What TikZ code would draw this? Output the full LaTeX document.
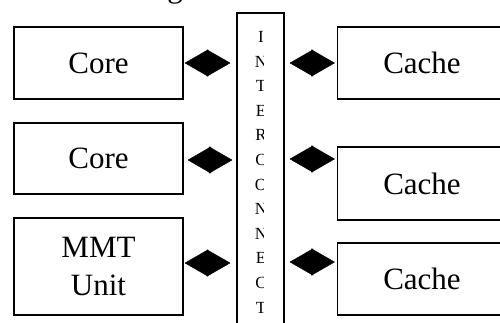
\documentclass[tikz,border=0pt]{standalone}
\usepackage{fontspec}
\setmainfont{Liberation Serif}
\usetikzlibrary{arrows.meta}
\begin{document}
\begin{tikzpicture}[x=1pt,y=-1pt,
  box/.style={draw, line width=1.2pt, minimum width=169pt, inner sep=0pt,
    font=\fontsize{31}{38}\selectfont, align=center},
  dbl/.style={line width=0.4pt, {Triangle[length=23.5pt,width=27pt]}-{Triangle[length=23.5pt,width=27pt]}},
  letter/.style={inner sep=0pt, font=\fontsize{17}{18}\selectfont, anchor=base}]
\useasboundingbox (0,0) rectangle (500,322);
\clip (0,0) rectangle (500,322);
\fill[white] (0,0) rectangle (500,322);
% caption fragment
\node[inner sep=0pt, anchor=base, font=\fontsize{31}{38}\selectfont] (cap) at (175,-3) {g};
% boxes
\node[box, minimum height=72pt] (core1) at (98.5,63) {Core};
\node[box, minimum height=71pt] (core2) at (98.5,158.5) {Core};
\node[box, minimum height=97pt] (mmt) at (98.5,266.5) {MMT\\Unit};
\node[draw, line width=1.2pt, minimum width=47pt, minimum height=330pt, inner sep=0pt] (int) at (260.5,178) {};
\node[box, minimum height=72pt] (cache1) at (422,63) {Cache};
\node[box, minimum height=73pt] (cache2) at (422,183.5) {Cache};
\node[box, minimum height=72pt] (cache3) at (422,279) {Cache};
% interconnect letters
\begin{scope}
\clip (240,13) rectangle (263.8,330);
\foreach \ch [count=\i from 0] in {I,N,T,E,R,C,O,N,N,E,C,T}{
  \node[letter] (l\i) at (261,{42.5+24.6*\i}) {\ch};
}
\end{scope}
% connectors
\coordinate (r1) at (0,63);
\coordinate (r2l) at (0,160);
\coordinate (r2r) at (0,159);
\coordinate (r3l) at (0,263);
\coordinate (r3r) at (0,262);
\draw[dbl, shorten <=1pt, shorten >=6pt] (core1.east) -- (int.west |- r1);
\draw[dbl, shorten <=5pt, shorten >=2pt] (int.east |- r1) -- (cache1.west |- r1);
\draw[dbl, shorten <=4pt, shorten >=4pt] (core2.east |- r2l) -- (int.west |- r2l);
\draw[dbl, shorten <=5pt, shorten >=2pt] (int.east |- r2r) -- (cache2.west |- r2r);
\draw[dbl, shorten <=1pt, shorten >=6pt] (mmt.east |- r3l) -- (int.west |- r3l);
\draw[dbl, shorten <=5pt, shorten >=2pt] (int.east |- r3r) -- (cache3.west |- r3r);
\end{tikzpicture}
\end{document}
